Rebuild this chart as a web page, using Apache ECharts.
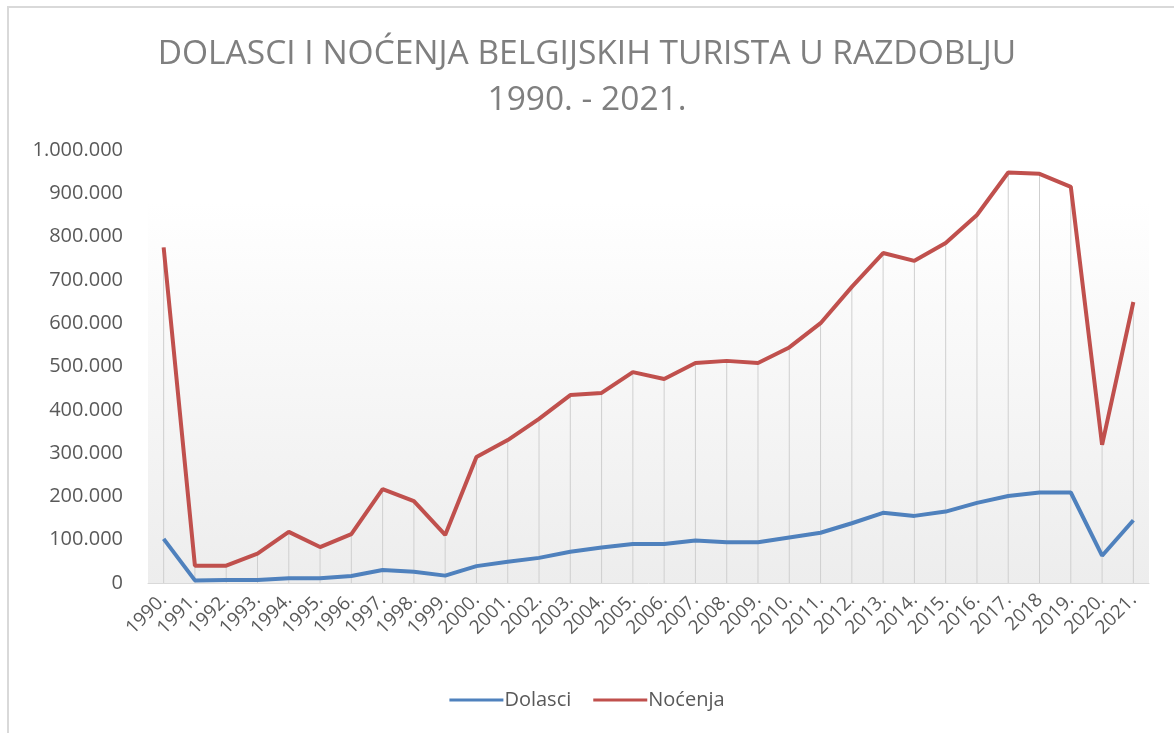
<!DOCTYPE html>
<html>
<head>
<meta charset="utf-8">
<script src="https://cdn.jsdelivr.net/npm/echarts@6/dist/echarts.min.js"></script>
<style>
html, body { margin: 0; padding: 0; background: #fff; }
#frame { position: absolute; left: 7px; top: 6px; width: 1180px; height: 740px; border-top: 2px solid #d9d9d9; border-left: 2px solid #d9d9d9; }
#main { position: absolute; left: 0; top: 0; width: 1174px; height: 733px; }
</style>
</head>
<body>
<div id="frame"></div>
<div id="main"></div>
<script>
var godine = ['1990.','1991.','1992.','1993.','1994.','1995.','1996.','1997.','1998.','1999.',
  '2000.','2001.','2002.','2003.','2004.','2005.','2006.','2007.','2008.','2009.',
  '2010.','2011.','2012.','2013.','2014.','2015.','2016.','2017.','2018','2019.','2020.','2021.'];
var dolasci = [102000, 6000, 7000, 7000, 11000, 11000, 16000, 30000, 26000, 17000,
  39000, 49000, 58000, 72000, 82000, 90000, 90000, 98000, 94000, 94000,
  105000, 116000, 138000, 162000, 155000, 165000, 185000, 201000, 209000, 209000, 63000, 145000];
var nocenja = [775000, 40000, 40000, 68000, 118000, 83000, 113000, 217000, 189000, 111000,
  291000, 330000, 379000, 434000, 439000, 487000, 471000, 508000, 513000, 508000,
  544000, 600000, 684000, 762000, 744000, 785000, 850000, 948000, 945000, 915000, 319000, 649000];
var yTicks = [0, 100000, 200000, 300000, 400000, 500000, 600000, 700000, 800000, 900000, 1000000];

function tocke(v) {
    return String(v).replace(/\B(?=(\d{3})+(?!\d))/g, '.');
}

var myChart = echarts.init(document.getElementById('main'));
var font = '"Open Sans", sans-serif';
option = {
    textStyle: { fontFamily: font },
    title: {
        text: 'DOLASCI I NOĆENJA BELGIJSKIH TURISTA U RAZDOBLJU\n1990. - 2021.',
        left: 'center',
        top: 26,
        textStyle: {
            color: '#7f7f7f',
            fontSize: 33.5,
            fontWeight: 'normal',
            fontFamily: font,
            lineHeight: 46
        }
    },
    legend: {
        data: ['Dolasci', 'Noćenja'],
        bottom: 18,
        left: 'center',
        itemWidth: 54,
        itemHeight: 3,
        itemGap: 22,
        icon: 'rect',
        textStyle: { color: '#595959', fontSize: 20, fontFamily: font, padding: [0, 0, 0, -4] }
    },
    grid: {
        left: 148,
        right: 25,
        top: 150,
        bottom: 150,
        show: true,
        borderWidth: 0,
        backgroundColor: new echarts.graphic.LinearGradient(0, 0, 0, 1, [
            { offset: 0, color: '#ffffff' },
            { offset: 0.12, color: '#ffffff' },
            { offset: 1, color: '#ededed' }
        ])
    },
    xAxis: {
        type: 'category',
        data: godine,
        boundaryGap: true,
        axisLine: { lineStyle: { color: '#d9d9d9', width: 1 } },
        axisTick: { show: false },
        axisLabel: {
            rotate: 45,
            interval: 0,
            color: '#595959',
            fontSize: 19,
            fontFamily: font,
            margin: 14
        }
    },
    yAxis: {
        type: 'value',
        min: 0,
        max: 1000000,
        interval: 100000,
        axisLine: { show: false },
        axisTick: { show: false },
        splitLine: { show: false },
        axisLabel: {
            color: '#595959',
            fontSize: 20,
            fontFamily: font,
            margin: 25,
            formatter: function (v) { return tocke(v); }
        }
    },
    series: [
        {
            name: 'okomice',
            type: 'bar',
            barWidth: 1,
            silent: true,
            z: 1,
            itemStyle: { color: '#cfcfcf' },
            data: nocenja
        },
        {
            name: 'Dolasci',
            type: 'line',
            symbol: 'none',
            z: 3,
            lineStyle: { color: '#4f81bd', width: 4 },
            itemStyle: { color: '#4f81bd' },
            data: dolasci
        },
        {
            name: 'Noćenja',
            type: 'line',
            symbol: 'none',
            z: 3,
            lineStyle: { color: '#c0504d', width: 4 },
            itemStyle: { color: '#c0504d' },
            data: nocenja
        }
    ]
};
myChart.setOption(option);
</script>
</body>
</html>
